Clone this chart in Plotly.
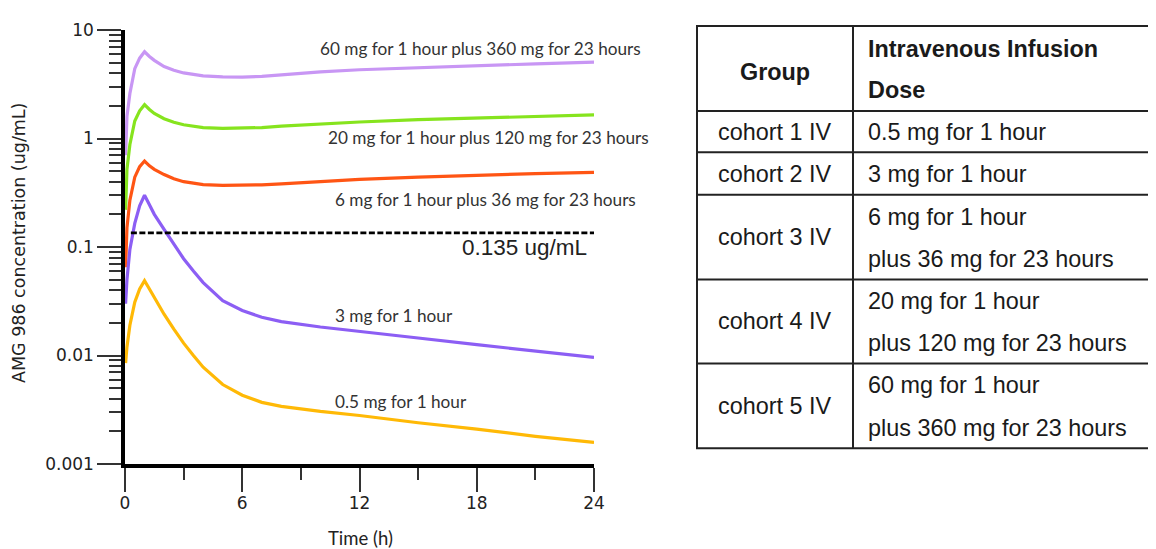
import plotly.graph_objects as go

# ---------------- data ----------------
time_h = [0.03, 0.1, 0.25, 0.5, 0.75, 1.0, 1.25, 1.5, 2, 2.5, 3, 3.5, 4, 5, 6, 7, 8, 10, 12, 15, 18, 21, 24]

cohort5_conc = [0.7, 1.6, 2.6, 4.4, 5.5, 6.3, 5.7, 5.25, 4.6, 4.25, 4.02, 3.88, 3.78, 3.7, 3.68, 3.74, 3.86, 4.12, 4.3, 4.5, 4.7, 4.88, 5.05]
cohort4_conc = [0.22, 0.52, 0.88, 1.45, 1.8, 2.05, 1.85, 1.7, 1.52, 1.41, 1.34, 1.29, 1.26, 1.24, 1.24, 1.26, 1.3, 1.36, 1.42, 1.49, 1.55, 1.6, 1.65]
cohort3_conc = [0.065, 0.15, 0.27, 0.44, 0.55, 0.62, 0.56, 0.52, 0.465, 0.425, 0.40, 0.385, 0.376, 0.37, 0.37, 0.374, 0.381, 0.40, 0.42, 0.44, 0.46, 0.475, 0.487]
cohort2_conc = [0.03, 0.05, 0.095, 0.165, 0.24, 0.30, 0.245, 0.2, 0.145, 0.105, 0.078, 0.06, 0.047, 0.032, 0.026, 0.0225, 0.0205, 0.0183, 0.0166, 0.0145, 0.0126, 0.011, 0.0096]
cohort1_conc = [0.0085, 0.012, 0.019, 0.031, 0.041, 0.049, 0.041, 0.034, 0.024, 0.0175, 0.013, 0.010, 0.0078, 0.0054, 0.0043, 0.0037, 0.0034, 0.00305, 0.0028, 0.0024, 0.0021, 0.0018, 0.00158]

threshold_time = [0.3, 24]
threshold_conc = [0.135, 0.135]
threshold_label = "0.135 ug/mL"

curve_labels = [
    "60 mg for 1 hour plus 360 mg for 23 hours",
    "20 mg for 1 hour plus 120 mg for 23 hours",
    "6 mg for 1 hour plus 36 mg for 23 hours",
    "3 mg for 1 hour",
    "0.5 mg for 1 hour",
]

x_tickvals = [0, 6, 12, 18, 24]
y_tickvals = [0.001, 0.01, 0.1, 1, 10]
y_ticktext = ["0.001", "0.01", "0.1", "1", "10"]

y_title = "AMG 986 concentration (ug/mL)"
x_title = "Time (h)"

table_header_group = "Group"
table_header_dose = ["Intravenous Infusion", "Dose"]
groups = ["cohort 1 IV", "cohort 2 IV", "cohort 3 IV", "cohort 4 IV", "cohort 5 IV"]
dose_line1 = ["0.5 mg for 1 hour", "3 mg for 1 hour", "6 mg for 1 hour", "20 mg for 1 hour", "60 mg for 1 hour"]
dose_line2 = ["", "", "plus 36 mg for 23 hours", "plus 120 mg for 23 hours", "plus 360 mg for 23 hours"]

# ---------------- layout geometry ----------------
# page is rendered with an 8px body margin; figure is sized/positioned to compensate
OFF = 8
W, H = 1156 - OFF, 549 - OFF
# plot area in page pixels
P_L, P_R, P_T, P_B = 125, 594, 24, 464
L = P_L - OFF
T = P_T - OFF
R = W - (P_R - OFF)
B = H - (P_B - OFF)
PW = P_R - P_L
PH = P_B - P_T


def px(x):
    return (x - P_L) / PW


def py(y):
    return (P_B - y) / PH


colors = ["#C896F4", "#86E41E", "#FF5514", "#8C5EF4", "#FFB906"]
series = [cohort5_conc, cohort4_conc, cohort3_conc, cohort2_conc, cohort1_conc]

fig = go.Figure()
for vals, col in zip(series, colors):
    fig.add_trace(go.Scatter(x=time_h, y=vals, mode="lines",
                             line=dict(color=col, width=3.2), hoverinfo="skip", showlegend=False))

fig.add_trace(go.Scatter(x=threshold_time, y=threshold_conc, mode="lines",
                         line=dict(color="black", width=2.8, dash="6px,2.5px"),
                         hoverinfo="skip", showlegend=False))

annotations = []
label_pos = [(318, 43), (326, 133), (333, 196), (333, 313), (333, 401)]
for text, (lx, ly) in zip(curve_labels, label_pos):
    annotations.append(dict(text=text, x=px(lx), y=py(ly), xref="paper", yref="paper",
                            xanchor="left", yanchor="middle", showarrow=False,
                            font=dict(family="Lato", size=17.2, color="#333")))
annotations.append(dict(text=threshold_label, x=px(460), y=py(245), xref="paper", yref="paper",
                        xanchor="left", yanchor="middle", showarrow=False,
                        font=dict(family="Liberation Sans", size=22.5, color="#222")))

# axis titles
annotations.append(dict(text=y_title, x=px(19), y=py(240), xref="paper", yref="paper",
                        xanchor="center", yanchor="middle", textangle=-90, showarrow=False,
                        font=dict(family="DejaVu Sans", size=17.5, color="#222")))
annotations.append(dict(text=x_title, x=px(360), y=py(539), xref="paper", yref="paper",
                        xanchor="center", yanchor="middle", showarrow=False,
                        font=dict(family="Lato", size=18.5, color="#222")))

# ---------------- table ----------------
tx0, tx_div, tx1 = 697, 853, 1154
row_edges = [20, 106, 148, 191, 277, 362, 448]
shapes = []
line_style = dict(color="#222", width=2)
for ye in row_edges:
    shapes.append(dict(type="line", xref="paper", yref="paper",
                       x0=px(tx0 - 1), x1=px(tx1 + 1), y0=py(ye), y1=py(ye), line=line_style))
for xe in [tx0, tx_div, tx1]:
    shapes.append(dict(type="line", xref="paper", yref="paper",
                       x0=px(xe), x1=px(xe), y0=py(row_edges[0]), y1=py(row_edges[-1]), line=line_style))

tfont = dict(family="Liberation Sans", size=23.4, color="#1a1a1a")
group_cx = (tx0 + tx_div) / 2
dose_x = 866

annotations.append(dict(text="<b>" + table_header_group + "</b>", x=px(group_cx), y=py(67),
                        xref="paper", yref="paper", xanchor="center", yanchor="middle",
                        showarrow=False, font=tfont))
for text, yy in zip(table_header_dose, [43, 85]):
    annotations.append(dict(text="<b>" + text + "</b>", x=px(dose_x), y=py(yy),
                            xref="paper", yref="paper", xanchor="left", yanchor="middle",
                            showarrow=False, font=tfont))

for i, g in enumerate(groups):
    top, bot = row_edges[i + 1], row_edges[i + 2]
    cy = (top + bot) / 2
    annotations.append(dict(text=g, x=px(group_cx), y=py(cy), xref="paper", yref="paper",
                            xanchor="center", yanchor="middle", showarrow=False, font=tfont))
    if dose_line2[i]:
        y1 = top + (bot - top) * 0.26
        y2 = top + (bot - top) * 0.76
        annotations.append(dict(text=dose_line1[i], x=px(dose_x), y=py(y1), xref="paper", yref="paper",
                                xanchor="left", yanchor="middle", showarrow=False, font=tfont))
        annotations.append(dict(text=dose_line2[i], x=px(dose_x), y=py(y2), xref="paper", yref="paper",
                                xanchor="left", yanchor="middle", showarrow=False, font=tfont))
    else:
        annotations.append(dict(text=dose_line1[i], x=px(dose_x), y=py(cy), xref="paper", yref="paper",
                                xanchor="left", yanchor="middle", showarrow=False, font=tfont))

minor_y = [m * 10 ** e for e in range(-3, 1) for m in range(2, 10)]

fig.update_layout(
    width=W, height=H,
    margin=dict(l=L, r=R, t=T, b=B, pad=0),
    plot_bgcolor="white", paper_bgcolor="white",
    showlegend=False,
    annotations=annotations,
    shapes=shapes,
    xaxis=dict(range=[0, 24], tickvals=x_tickvals, showgrid=False, zeroline=False,
               showline=True, linecolor="black", linewidth=3.5,
               ticks="outside", ticklen=24, tickwidth=1.5, tickcolor="#333",
               ticklabelstandoff=-3,
               minor=dict(dtick=3, tick0=0, ticks="outside", ticklen=12, tickwidth=1.5, tickcolor="#333", showgrid=False),
               tickfont=dict(family="DejaVu Sans", size=17, color="#222")),
    yaxis=dict(type="log", range=[-3, 1], tickvals=y_tickvals, ticktext=y_ticktext,
               showgrid=False, zeroline=False,
               showline=True, linecolor="black", linewidth=3.5,
               ticks="outside", ticklen=24, tickwidth=1.5, tickcolor="#333",
               minor=dict(tickmode="array", tickvals=minor_y, ticks="outside", ticklen=12,
                          tickwidth=1.5, tickcolor="#333", showgrid=False),
               tickfont=dict(family="DejaVu Sans", size=17, color="#222")),
)

fig.write_html("out.html")
